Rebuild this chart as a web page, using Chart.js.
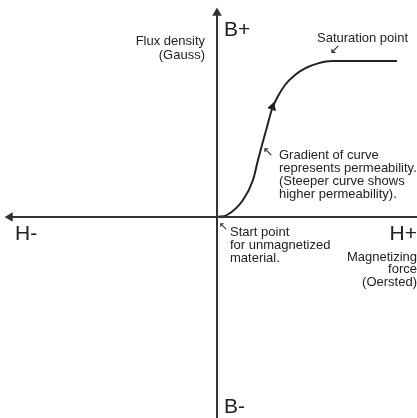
<!DOCTYPE html>
<html>
<head>
<meta charset="utf-8">
<script src="https://cdn.jsdelivr.net/npm/chart.js@4"></script>
<style>
  html, body { margin: 0; padding: 0; background: #fff; }
  #box { width: 417px; height: 418px; }
</style>
</head>
<body>
<div id="box"><canvas id="myChart"></canvas></div>
<script>
// magnetization curve (H = magnetizing force, B = flux density)
const hValues = [0, 5, 13, 18, 20.5, 22.5, 25, 27.5, 30, 34, 39, 44, 50.5, 57.5, 90];
const bValues = [0, 1, 8.5, 18.5, 28.5, 36, 45, 54, 59.5, 66, 71, 74.3, 76.8, 78, 78];

// axis extents (same units as the curve)
const hRange = [-103.5, 100];
const bRange = [-100.5, 102];

// direction arrow sitting on the curve
const arrowPoint = [27.7, 55];

const ink = '#222';

// text notes: [text, h, b, align, size]
const notes = [
  ['Flux density', -6, 88, 'right', 13],
  ['(Gauss)', -6, 81, 'right', 13],
  ['B+', 3.5, 93.5, 'left', 21],
  ['Saturation point', 50, 89.5, 'left', 13],
  ['\u2199', 59, 83.5, 'center', 13],
  ['\u2196', 25.5, 32, 'center', 13],
  ['Gradient of curve', 31, 31, 'left', 13],
  ['represents permeability.', 31, 24.5, 'left', 13],
  ['(Steeper curve shows', 31, 18, 'left', 13],
  ['higher permeability).', 31, 11.5, 'left', 13],
  ['H-', -101, -8.5, 'left', 21],
  ['\u2196', 3, -5, 'center', 11],
  ['Start point', 6.5, -7.5, 'left', 13],
  ['for unmagnetized', 6.5, -14, 'left', 13],
  ['material.', 6.5, -20.5, 'left', 13],
  ['H+', 100, -8.5, 'right', 21],
  ['Magnetizing', 100, -20, 'right', 13],
  ['force', 100, -26, 'right', 13],
  ['(Oersted)', 100, -32.5, 'right', 13],
  ['B-', 3.5, -95, 'left', 21]
];

// writes the notes at their scale positions
const notePlugin = {
  id: 'notes',
  afterDatasetsDraw(chart) {
    const ctx = chart.ctx;
    const xs = chart.scales.x, ys = chart.scales.y;
    ctx.save();
    ctx.fillStyle = ink;
    ctx.textBaseline = 'middle';
    notes.forEach(n => {
      ctx.font = n[4] + 'px "Liberation Sans", Arial, sans-serif';
      if (n[0].charCodeAt(0) > 0x2000) ctx.font = n[4] + 'px "DejaVu Sans", sans-serif';
      ctx.textAlign = n[3];
      ctx.fillText(n[0], xs.getPixelForValue(n[1]), ys.getPixelForValue(n[2]));
    });
    ctx.restore();
  }
};

let curve = hValues.map((h, i) => ({x: h, y: bValues[i]}));

let ctx = document.getElementById('myChart').getContext('2d');
let chart = new Chart(ctx, {
  type: 'scatter',
  data: {
    datasets: [
      { // horizontal axis
        data: [{x: hRange[0], y: 0}, {x: hRange[1], y: 0}],
        showLine: true, borderWidth: 2,
        pointStyle: 'triangle', rotation: -90,
        pointRadius: [3.5, 0], backgroundColor: '#333', borderColor: '#333',
        clip: false
      },
      { // vertical axis
        data: [{x: 0, y: bRange[0]}, {x: 0, y: bRange[1]}],
        showLine: true, borderWidth: 2,
        pointStyle: 'triangle', rotation: 0,
        pointRadius: [0, 3.5], backgroundColor: '#333', borderColor: '#333',
        clip: false
      },
      { // B-H curve
        data: curve,
        showLine: true, borderColor: ink, borderWidth: 2,
        pointRadius: 0, cubicInterpolationMode: 'monotone'
      },
      { // arrow on the curve
        data: [{x: arrowPoint[0], y: arrowPoint[1]}],
        pointStyle: 'triangle', rotation: 19, pointRadius: 4.5,
        backgroundColor: ink, borderColor: ink, borderWidth: 1
      }
    ]
  },
  options: {
    responsive: true,
    maintainAspectRatio: false,
    animation: false,
    layout: { padding: 0, autoPadding: false },
    plugins: { legend: { display: false }, tooltip: { enabled: false } },
    scales: {
      x: { type: 'linear', min: -108.5, max: 100, display: false },
      y: { type: 'linear', min: -100.5, max: 108.5, display: false }
    }
  },
  plugins: [notePlugin]
});
</script>
</body>
</html>
